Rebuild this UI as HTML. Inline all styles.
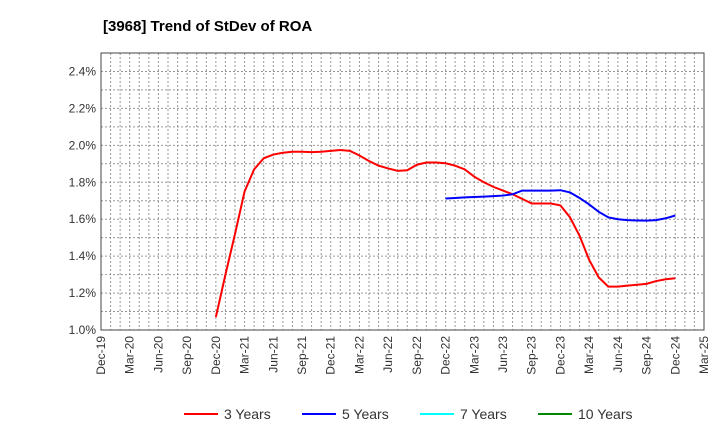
<!DOCTYPE html>
<html><head><meta charset="utf-8"><style>
body{margin:0;background:#fff;font-family:"Liberation Sans",sans-serif}
svg{display:block}
</style></head><body>
<svg id="chart" width="720" height="440">
<text x="103" y="31" font-size="15" font-weight="bold" fill="#000">[3968]  Trend of StDev of ROA</text>
<g id="grid"></g><g id="axes"></g><g id="series"></g><g id="legend"></g>
</svg>
<script>
const xLabels=["Dec-19","Mar-20","Jun-20","Sep-20","Dec-20","Mar-21","Jun-21","Sep-21","Dec-21","Mar-22","Jun-22","Sep-22","Dec-22","Mar-23","Jun-23","Sep-23","Dec-23","Mar-24","Jun-24","Sep-24","Dec-24","Mar-25"];
const yTicks=[1.0,1.2,1.4,1.6,1.8,2.0,2.2,2.4];
const red3Start=12;
const red3=[1.07,1.30,1.52,1.75,1.87,1.93,1.95,1.96,1.965,1.965,1.963,1.965,1.97,1.975,1.97,1.945,1.915,1.89,1.875,1.862,1.865,1.895,1.907,1.907,1.903,1.89,1.87,1.83,1.80,1.775,1.755,1.735,1.71,1.685,1.685,1.685,1.675,1.61,1.51,1.38,1.285,1.235,1.235,1.24,1.245,1.25,1.265,1.275,1.28];
const blue5Start=36;
const blue5=[1.712,1.715,1.718,1.72,1.722,1.725,1.728,1.735,1.755,1.755,1.755,1.755,1.757,1.745,1.715,1.68,1.64,1.61,1.60,1.595,1.593,1.592,1.595,1.605,1.62];
const L=101,R=704,T=53,B=330,yMin=1.0,yMax=2.5,months=63;
const X=m=>L+(R-L)*m/months;
const Y=v=>B-(B-T)*(v-yMin)/(yMax-yMin);
const NS="http://www.w3.org/2000/svg";
function mk(p,t,a){const e=document.createElementNS(NS,t);for(const k in a)e.setAttribute(k,a[k]);p.appendChild(e);return e;}
const g=document.getElementById('grid'),ax=document.getElementById('axes'),s=document.getElementById('series'),lg=document.getElementById('legend');
for(let m=1;m<months;m++){const l=mk(g,'line',{x1:X(m),x2:X(m),y1:T,y2:B,stroke:'#999','stroke-dasharray':'2,2','stroke-width':1});

}
for(let v=1.1;v<2.45;v+=0.1){const l=mk(g,'line',{x1:L,x2:R,y1:Y(v),y2:Y(v),stroke:'#999','stroke-dasharray':'2,2','stroke-width':1});

}
const fr=mk(ax,'rect',{x:L,y:T,width:R-L,height:B-T,fill:'none',stroke:'#444','stroke-width':1});


yTicks.forEach(v=>{const t=mk(ax,'text',{x:L-5,y:Y(v)+4,'text-anchor':'end','font-size':12,fill:'#333'});t.textContent=v.toFixed(1)+'%';

});
xLabels.forEach((lb,i)=>{const x=X(i*3);const t=mk(ax,'text',{x:x+4,y:B+6,'text-anchor':'end','font-size':12,fill:'#333',transform:`rotate(-90 ${x+4} ${B+6})`});t.textContent=lb;

});
function line(arr,start,col,name){const p=mk(s,'polyline',{points:arr.map((v,i)=>X(start+i)+','+Y(v)).join(' '),fill:'none',stroke:col,'stroke-width':2});

}
line(red3,red3Start,'#f00','series-3-years');
line(blue5,blue5Start,'#00f','series-5-years');
const leg=[["3 Years","#f00",184],["5 Years","#00f",302],["7 Years","#0ff",420],["10 Years","#080",538]];
leg.forEach(([n,c,x])=>{const gg=mk(lg,'g',{});


mk(gg,'line',{x1:x,x2:x+34,y1:414,y2:414,stroke:c,'stroke-width':2});
const t=mk(gg,'text',{x:x+40,y:419,'font-size':14,fill:'#333'});t.textContent=n;});
</script>
</body></html>
